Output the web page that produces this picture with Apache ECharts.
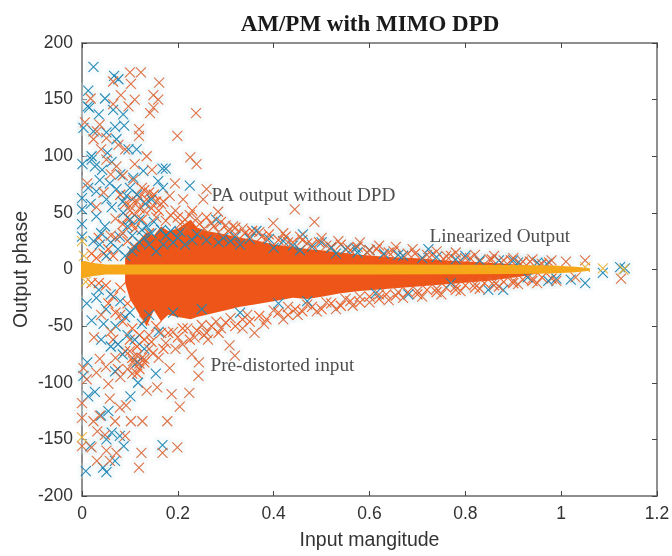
<!DOCTYPE html>
<html><head><meta charset="utf-8">
<style>html,body{margin:0;padding:0;background:#fff}#c{width:672px;height:556px}</style>
<script src="https://cdn.jsdelivr.net/npm/echarts@6/dist/echarts.min.js"></script></head>
<body><div id="c"></div>
<script>
var titleText='AM/PM with MIMO DPD';
var xName='Input mangitude', yName='Output phase';
var xTicks=[0,0.2,0.4,0.6,0.8,1,1.2];
var yTicks=[-200,-150,-100,-50,0,50,100,150,200];
var notes=[[0.27,65,'PA output without DPD'],[0.725,29,'Linearized Output'],[0.268,-85,'Pre-distorted input']];

var blue=[[.024,179],[.067,171],[.076,168],[.013,158],[.048,151],[.015,143],[.012,144],[.065,141],[.086,137],[.035,137],[.003,125],[.088,127],[.069,126],[.024,122],[.051,121],[.072,115],[.097,106],[.114,106],[.053,103],[.02,100],[.001,93],[.027,91],[.02,97],[.168,89],[.175,89],[.128,87],[.107,81],[.159,78],[.225,74],[.169,72],[.037,79],[.058,76],[.013,72],[.03,69],[.072,71],[.093,65],[0,63],[.051,62],[.145,62],[0,53],[.03,47],[.086,50],[0,40],[.048,38],[0,29],[.024,25],[.037,22],[.079,29],[.051,12],[.364,34],[.461,31],[.28,44],[.095,38],[.105,30],[.12,44],[.062,55],[.075,18],[.09,12],[.14,22],[.165,35],[.2,28],[.24,31],[.31,25],[.39,27],[.42,25],[.52,19],[.6,17],
[.018,58],[.042,88],[.062,95],[.08,84],[.1,72],[.115,66],[.132,58],[.04,32],[.06,24],[.085,60],[.1,44],[.125,35],[.15,42],[.175,30],[.19,24],[.215,22],[.26,26],[.285,24],[.33,22],[.35,27],[.44,21],[.48,20],[.5,24],[.55,18],[.575,15],[.63,14],[.67,12],[.71,10],[.74,11],[.78,9],[.83,8],[.87,8],[.91,6],[.97,5],[.11,20],[.13,28],[.155,16],[.135,38],[.12,24],[.105,16],[.145,32],[.17,22],[.185,34],[.205,33],[.23,26],[.295,28],[.32,29],[.4,19],[.455,17],[.53,14],
[.011,-82],[.003,-94],[.069,-90],[.154,-92],[.117,-100],[.027,-108],[.101,-112],[.013,-112],[.055,-125],[.04,-129],[.062,-144],[.079,-147],[.051,-150],[.087,-156],[.017,-156],[.168,-155],[.069,-169],[.008,-178],[.044,-175],[.051,-179],[.03,-25],[.05,-35],[.07,-50],[.09,-42],[.11,-62],[.13,-70],[.04,-62],[.06,-68],[.085,-75],[.02,-45],[.01,-30],[.16,-55],[.19,-38],[.25,-35],[.33,-38],[.41,-30],[.47,-28],[.035,-18],[.06,-22],[.08,-28],[.1,-38],[.125,-48],[.14,-40],[.045,-48],[.075,-66],[.095,-58],[.115,-82],
[1.05,-12],[1.133,1],[1.087,-3],[1.123,2],[.879,-18],[.848,-18],[1.02,-9],[.973,-10],[.723,18],[.95,6],[.681,-22],[.8,12],[.571,19],[.613,-21],[.99,-8],[.93,-7],[.9,8],[.77,-12],[.66,13]];

var orange=[[.1,174],[.123,174],[.065,166],[.102,164],[.161,165],[.081,154],[.11,150],[.149,154],[.159,150],[.018,151],[.065,146],[.097,144],[.149,143],[.142,138],[.238,138],[.006,130],[.037,128],[.031,122],[.119,124],[.119,118],[.199,118],[.024,115],[.051,116],[.076,110],[.09,106],[.135,100],[.226,99],[.239,93],[.051,97],[.072,91],[.11,93],[.146,88],[.011,76],[.194,76],[.26,71],[.107,79],[.183,65],[.211,62],[.253,62],[.284,51],[.444,53],[.399,41],[.485,42],[.315,38],[.04,106],[.06,84],[.085,83],[.125,72],[.14,68],[.165,58],[.195,52],[.225,48],[.24,45],[.27,41],[.3,39],[.335,36],[.37,33],[.42,32],[.455,29],[.5,28],[.535,25],[.58,24],[.62,21],[.655,20],[.69,18],[.74,16],[.78,15],[.82,13],[.86,12],[.9,10],[.94,9],[.98,8],[1.01,7],[1.05,8],[.115,60],[.13,52],[.155,46],[.175,43],[.205,40],[.22,37],[.255,36],[.285,33],[.32,31],[.35,29],[.385,27],[.43,24],[.47,23],[.51,21],[.555,19],[.6,17],[.64,15],[.68,14],[.72,13],[.76,12],[.8,10],[.85,9],[.88,8],[.92,7],[.96,5],[.03,55],[.045,68],[.07,45],[.085,32],[.1,52],[.06,30],
[.003,-87],[.037,-79],[.03,-91],[.107,-81],[.12,-83],[.183,-87],[.229,-75],[.244,-82],[.243,-94],[.308,-67],[.319,-76],[.263,-62],[.055,-101],[.01,-97],[.135,-107],[.157,-104],[.187,-110],[.224,-109],[.204,-121],[.058,-114],[.079,-122],[.092,-120],[0,-118],[.024,-134],[.069,-134],[.102,-134],[.126,-134],[.178,-134],[0,-131],[.037,-129],[.032,-143],[.048,-146],[.09,-147],[0,-156],[.02,-157],[.051,-160],[.072,-162],[.124,-162],[.168,-162],[.199,-157],[.031,-169],[.058,-169],[.119,-175],
[.08,-95],[.095,-88],[.105,-92],[.115,-76],[.13,-79],[.14,-70],[.16,-78],[.175,-65],[.195,-70],[.21,-66],[.235,-60],[.26,-56],[.29,-52],[.335,-52],[.36,-56],[.38,-48],[.42,-44],[.45,-40],[.49,-37],[.53,-35],[.565,-32],[.6,-29],[.64,-27],[.67,-25],[.71,-24],[.75,-22],[.79,-19],[.83,-17],[.87,-15],[.91,-13],[.95,-12],[.99,-10],[1.03,-7],[1.125,-8],[.14,-58],[.165,-56],[.19,-55],[.22,-52],[.25,-49],[.28,-46],[.31,-43],[.345,-40],[.4,-36],[.43,-33],[.47,-31],[.51,-29],[.55,-26],[.58,-24],[.62,-22],[.66,-20],[.7,-19],[.74,-17],[.78,-15],[.82,-13],[.86,-11],[.9,-10],[.94,-8],[.04,-40],[.025,-60],[.06,-55],[.08,-40],[.1,-72],[.07,-78],[.05,-86]];

var dense=[[.08,66],[.09,58],[.105,62],[.12,54],[.135,62],[.15,66],[.16,52],[.17,60],[.185,48],[.2,46],[.215,44],[.23,52],[.245,40],[.26,46],[.275,38],[.29,42],[.305,34],[.32,37],[.34,32],[.355,34],[.375,29],[.39,31],[.41,26],[.425,29],[.44,24],[.46,26],[.48,22],[.495,24],[.52,20],[.54,22],[.56,17],[.575,20],[.595,15],[.615,18],[.63,13],[.65,16],[.67,12],[.695,14],[.71,10],[.73,13],[.755,9],[.77,12],[.79,8],[.81,10],[.83,7],[.855,9],[.875,6],[.895,8],[.915,5],[.935,7],[.955,4],[.975,6],[.07,28],[.085,40],[.095,25],[.11,36],[.125,44],[.14,32],[.055,18],[.065,12],[.045,14],[.03,10],[.02,14],[.035,28],
[.05,-14],[.035,-12],[.02,-12],[.065,-24],[.08,-16],[.055,-30],[.07,-38],[.085,-46],[.095,-30],[.105,-52],[.12,-58],[.13,-45],[.145,-64],[.155,-50],[.17,-70],[.18,-56],[.2,-60],[.21,-52],[.225,-62],[.24,-54],[.255,-58],[.27,-50],[.285,-56],[.3,-47],[.32,-50],[.335,-44],[.35,-46],[.37,-41],[.385,-44],[.41,-38],[.43,-40],[.445,-35],[.46,-37],[.48,-33],[.5,-35],[.52,-30],[.54,-32],[.56,-28],[.58,-29],[.6,-24],[.62,-26],[.635,-22],[.655,-23],[.68,-20],[.7,-22],[.72,-18],[.74,-20],[.76,-16],[.78,-18],[.8,-14],[.82,-16],[.84,-12],[.86,-14],[.88,-11],[.9,-12],[.92,-9],[.94,-10],[.96,-7],[.98,-8],
[.11,-84],[.12,-88],[.13,-82],[.115,-92],[.125,-78],[.105,-78],[.09,-72],[.1,-62],[.115,-68],[.13,-62],[.148,-74],[.075,-88],[.065,-62],[.1,56],[.11,48],[.12,64],[.13,70],[.145,54],[.155,60],[.095,46],[.105,40]];

var massX=[.09,.1,.12,.135,.15,.165,.18,.2,.227,.24,.26,.3,.33,.36,.4,.44,.47,.5,.54,.58,.64,.7,.76,.85,.92,.98];
var massTop=[10,18,26,33,30,38,34,36,44,37,34,31,28,26,22,20,18,17,15,13,11,10,8,6,4,1];
var massBottom=[-12,-26,-40,-50,-36,-46,-40,-42,-44,-42,-40,-36,-33,-31,-28,-25,-26,-24,-21,-19,-17,-15,-13,-10,-6,-1];
var lineX=[-0.002,.006,.02,.05,.1,.2,.4,.6,.8,.9,.98,1.03,1.06];
var lineTop=[7,7.5,6,4.5,4.4,4.4,4.4,4.4,4.2,4,3.5,2.5,1];
var lineBottom=[-7,-7.5,-6,-4.5,-4.4,-4.4,-4.4,-4.4,-4.2,-4,-3.5,-2.5,-1];
var yellow=[[1.087,1],[1.13,0],[1.05,2],[0,25],[0,-148],[.004,12],[.008,-11]];

var X='path://M0 0L10 10M10 0L0 10';
function bandItem(xs,top,bottom,color){
  return function(params,api){
    var pts=[],i;
    for(i=0;i<xs.length;i++)pts.push(api.coord([xs[i],top[i]]));
    for(i=xs.length-1;i>=0;i--)pts.push(api.coord([xs[i],bottom[i]]));
    return {type:'polygon',shape:{points:pts},style:{fill:color}};
  };
}
function halo(d){return {type:'scatter',data:d,symbol:'rect',symbolSize:16,silent:true,z:1,
  itemStyle:{color:'rgba(226,240,242,0.3)'}};}
function marks(d,c,z,o){return {type:'scatter',data:d,symbol:X,symbolSize:10,silent:true,z:z,
  itemStyle:{color:'none',borderColor:c,borderWidth:1.1,opacity:o}};}
var axisLine={show:true,onZero:false,lineStyle:{color:'#6a6a6a',width:1.5}};
var tick={show:true,inside:true,length:5,lineStyle:{color:'#444'}};
var tickLab={color:'#333',fontSize:17.5,fontFamily:'Liberation Sans',margin:9};
var nameStyle={color:'#333',fontSize:19.5,fontFamily:'Liberation Sans'};

var chart=echarts.init(document.getElementById('c'));
chart.setOption({
  animation:false,backgroundColor:'#fff',
  title:{text:titleText,left:365,top:9,textAlign:'center',
    textStyle:{fontFamily:'Liberation Serif',fontWeight:'bold',fontSize:23,color:'#1a1a1a'}},
  grid:{left:82,top:43,width:575,height:453,outerBoundsMode:'none'},
  xAxis:[{type:'value',min:0,max:1.2,interval:.2,name:xName,nameLocation:'middle',nameGap:35,nameMoveOverlap:false,
      nameTextStyle:nameStyle,axisLine:axisLine,axisTick:tick,splitLine:{show:false},
      axisLabel:Object.assign({},tickLab,{formatter:function(v){return xTicks.indexOf(+v.toFixed(1))>=0?String(+v.toFixed(1)):'';}})},
    {type:'value',min:0,max:1.2,interval:.2,position:'top',axisLine:axisLine,
      axisTick:tick,axisLabel:{show:false},splitLine:{show:false}}],
  yAxis:[{type:'value',min:-200,max:200,interval:50,name:yName,nameLocation:'middle',nameGap:50,nameMoveOverlap:false,
      nameTextStyle:nameStyle,axisLine:axisLine,axisTick:tick,splitLine:{show:false},
      axisLabel:Object.assign({},tickLab,{formatter:function(v){return yTicks.indexOf(v)>=0?String(v):'';}})},
    {type:'value',min:-200,max:200,interval:50,position:'right',axisLine:axisLine,
      axisTick:tick,axisLabel:{show:false},splitLine:{show:false}}],
  series:[
    halo(blue),halo(orange),halo(dense),
    {type:'custom',coordinateSystem:'cartesian2d',data:[[0,0]],silent:true,z:3,clip:false,renderItem:bandItem(massX,massTop,massBottom,'#EE5518')},
    marks(dense,'#EE5F26',3,1),
    marks(blue,'#1C86B4',4,.95),
    marks(orange,'#DC6A3C',5,.95),
    {type:'custom',coordinateSystem:'cartesian2d',data:[[0,0]],silent:true,z:6,clip:false,renderItem:bandItem(lineX,lineTop,lineBottom,'#F6A81A')},
    marks(yellow,'#E8B030',7,.9),
    {type:'scatter',silent:true,z:8,symbolSize:0,data:notes.map(function(n){return {value:[n[0],n[1]],name:n[2]};}),
      label:{show:true,position:'right',distance:0,formatter:'{b}',color:'#222',fontFamily:'Liberation Serif',fontSize:19.3}}
  ]
});
</script></body></html>
